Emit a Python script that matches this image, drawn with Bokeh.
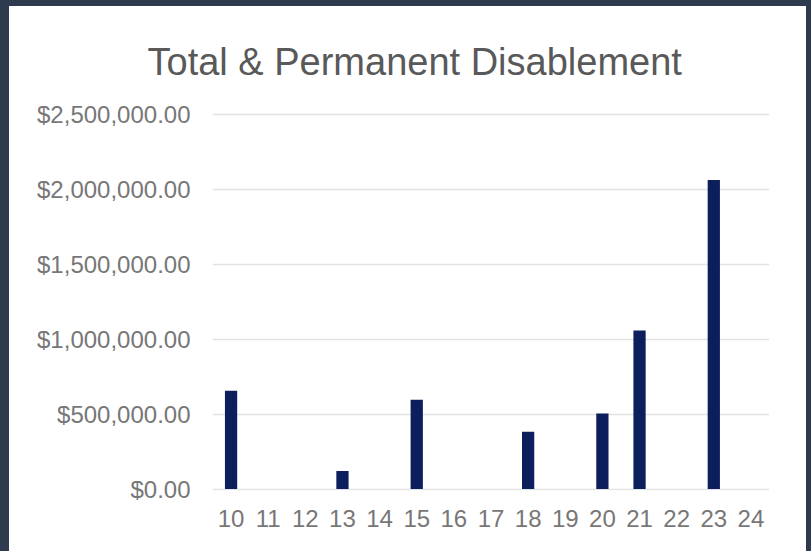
from bokeh.plotting import figure
from bokeh.models import FactorRange, Range1d, NumeralTickFormatter, FixedTicker, GlobalInlineStyleSheet
from bokeh.embed import file_html
from bokeh.resources import INLINE

categories = ["10", "11", "12", "13", "14", "15", "16", "17", "18", "19", "20", "21", "22", "23", "24"]
values = [655000, 0, 0, 120000, 0, 595000, 0, 0, 381000, 0, 503000, 1056000, 0, 2060000, 0]
y_ticks = [0, 500000, 1000000, 1500000, 2000000, 2500000]

p = figure(width=797, height=545, x_range=FactorRange(factors=categories),
           y_range=Range1d(-10000, 2510000), output_backend="svg", toolbar_location=None,
           title="Total & Permanent Disablement", outline_line_color=None)
p.stylesheets = [GlobalInlineStyleSheet(
    css="html, body { background: #2e3a4e; overflow: hidden; } body { padding: 6px 5px 0 9px; box-sizing: border-box; }")]
p.styles = {"background-color": "white"}
p.background_fill_color = "white"
p.border_fill_color = "white"
p.outline_line_color = None
p.min_border_left = 203
p.min_border_right = 37
p.min_border_top = 106
p.min_border_bottom = 61

p.title.text_font = "Liberation Sans"
p.title.text_font_size = "38px"
p.title.text_font_style = "normal"
p.title.text_color = "#595959"
p.title.align = "left"
p.title.offset = -65
p.title.standoff = 60

p.vbar(x=categories, top=values, width=0.33, fill_color="#0c1f5c", line_color=None)

p.xgrid.visible = False
p.ygrid.grid_line_color = "#e2e2e2"
p.ygrid.grid_line_width = 1.5

p.yaxis.ticker = FixedTicker(ticks=y_ticks)
p.yaxis.formatter = NumeralTickFormatter(format="$0,0.00")
for ax in (p.xaxis[0], p.yaxis[0]):
    ax.axis_line_color = None
    ax.major_tick_line_color = None
    ax.minor_tick_line_color = None
    ax.major_label_text_font = "Liberation Sans"
    ax.major_label_text_font_size = "24px"
    ax.major_label_text_color = "#777777"
p.yaxis.major_label_standoff = 16
p.xaxis.major_label_standoff = 13
p.x_range.range_padding = 0

open("out.html", "w").write(file_html(p, INLINE))
